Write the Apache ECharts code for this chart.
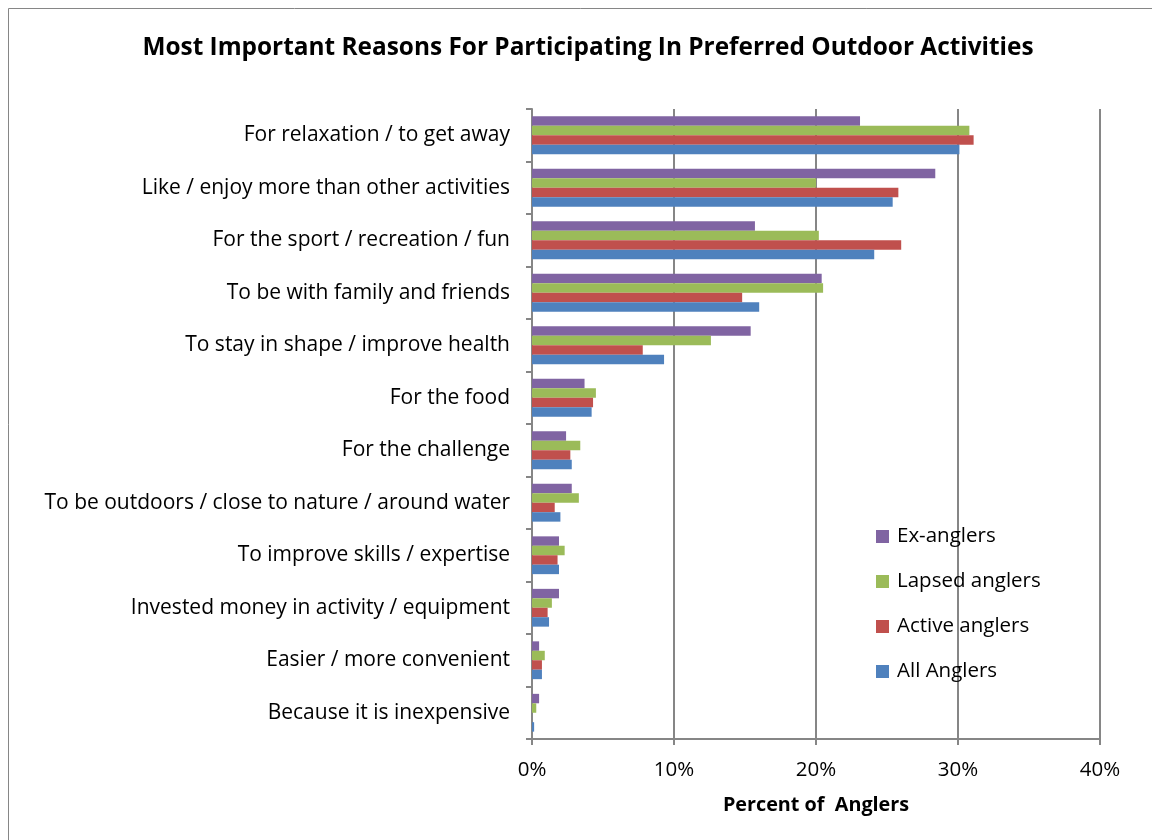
<!DOCTYPE html>
<html><head><meta charset="utf-8">
<script src="https://cdn.jsdelivr.net/npm/echarts@6/dist/echarts.min.js"></script>
<style>html,body{margin:0;padding:0;background:#fff}#c{width:1152px;height:840px}</style>
</head><body><div id="c"></div>
<script>
const categories = ["For relaxation / to get away","Like / enjoy more than other activities","For the sport / recreation / fun","To be with family and friends","To stay in shape / improve health","For the food","For the challenge","To be outdoors / close to nature / around water","To improve skills / expertise","Invested money in activity / equipment","Easier / more convenient","Because it is inexpensive"];
const exAnglers =     [23.1, 28.4, 15.7, 20.4, 15.4, 3.7, 2.4, 2.8, 1.9, 1.9, 0.5, 0.5];
const lapsedAnglers = [30.8, 20.0, 20.2, 20.5, 12.6, 4.5, 3.4, 3.3, 2.3, 1.4, 0.9, 0.3];
const activeAnglers = [31.1, 25.8, 26.0, 14.8, 7.8, 4.3, 2.7, 1.6, 1.8, 1.1, 0.7, 0.0];
const allAnglers =    [30.1, 25.4, 24.1, 16.0, 9.3, 4.2, 2.8, 2.0, 1.9, 1.2, 0.7, 0.15];
const seriesNames = ["Ex-anglers","Lapsed anglers","Active anglers","All Anglers"];
const xTicks = [0,10,20,30,40];
const colors = ["#8064A2","#9BBB59","#C0504D","#4F81BD"];
const FONT = "Open Sans";
const chart = echarts.init(document.getElementById('c'));
const data = [exAnglers, lapsedAnglers, activeAnglers, allAnglers];
chart.setOption({
  animation:false,
  backgroundColor:'#fff',
  graphic:[{type:'rect',shape:{x:8.5,y:8.5,width:1150,height:840},style:{fill:'none',stroke:'#868686',lineWidth:1}}],
  title:{text:'Most Important Reasons For Participating In Preferred Outdoor Activities',left:583,top:31,textAlign:'center',
    textStyle:{fontFamily:FONT,fontWeight:'bold',fontSize:24.4,color:'#000'}},
  legend:{orient:'vertical',left:871,top:521,itemGap:24,itemWidth:13,itemHeight:13,icon:'rect',
    textStyle:{fontFamily:FONT,fontSize:20.5,color:'#000',padding:[0,0,0,3]},data:seriesNames},
  grid:{left:532,top:109,width:568,height:630,containLabel:false},
  xAxis:{type:'value',min:xTicks[0],max:xTicks[xTicks.length-1],interval:10,
    axisLine:{show:true,lineStyle:{color:'#868686',width:2}},
    axisTick:{show:true,length:6,lineStyle:{color:'#868686',width:2}},
    splitLine:{show:true,lineStyle:{color:'#868686',width:2}},
    axisLabel:{formatter:'{value}%',fontFamily:FONT,fontSize:20.5,color:'#000',margin:21},
    name:'Percent of  Anglers',nameLocation:'middle',nameGap:56,
    nameTextStyle:{fontFamily:FONT,fontWeight:'bold',fontSize:19.8,color:'#000'}},
  yAxis:{type:'category',data:categories,inverse:true,
    axisLine:{show:true,lineStyle:{color:'#868686',width:2}},
    axisTick:{show:true,length:6,lineStyle:{color:'#868686',width:2}},
    axisLabel:{fontFamily:FONT,fontSize:21,color:'#000',margin:22,padding:[3,0,0,0]}},
  series: seriesNames.map((n,i)=>({name:n,type:'bar',data:data[i],barGap:'0%',barCategoryGap:'28%',
    itemStyle:{color:colors[i]}}))
});
</script></body></html>
